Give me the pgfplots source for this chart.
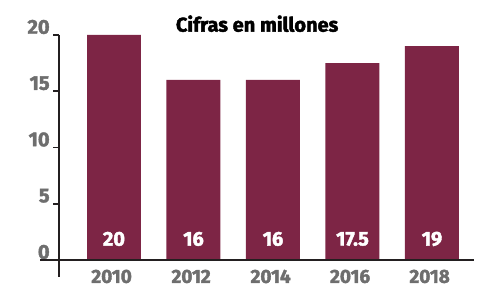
\documentclass[border=0pt]{standalone}
\usepackage{fontspec}
\setmainfont{Fira Sans}[BoldFeatures={FakeBold=2}]
\usepackage{pgfplots}
\pgfplotsset{compat=1.18}
\definecolor{maroon}{HTML}{7D2545}
\definecolor{lblgray}{HTML}{6E6E6E}
\definecolor{axblack}{HTML}{231F20}
\begin{document}
\begin{tikzpicture}
\begin{axis}[
  scale only axis,
  width=415pt, height=241.875pt,
  xmin=-0.69, xmax=4.53,
  ymin=-1.5, ymax=20,
  clip=false,
  axis x line=none,
  axis y line=left,
  axis line style={-, axblack, line width=1.6pt},
  ytick={0,5,10,15,20},
  yticklabels={0,5,10,15,20},
  tick align=outside,
  major tick length=6pt,
  ytick style={axblack, line width=1.6pt},
  yticklabel style={font=\fontsize{20}{20}\selectfont\bfseries, text=lblgray, anchor=east, yshift=8pt},
  /pgf/number format/assume math mode=true,
]
\addplot[ybar, bar shift=0pt, bar width=54pt, fill=maroon, draw=none] coordinates {(0,20) (1,16) (2,16) (3,17.5) (4,19)};
\addplot[draw=none, mark=none, nodes near coords, point meta=explicit symbolic,
  every node near coord/.append style={anchor=center, text=white, font=\fontsize{20}{20}\selectfont\bfseries}]
  coordinates {(0,1.87)[20] (1,1.87)[16] (2,1.87)[16] (3,1.87)[17.5] (4,1.87)[19]};
\draw[axblack, line width=1.6pt] (axis cs:-0.93,0) -- (axis cs:4.53,0);
\node[text=lblgray, font=\fontsize{19}{19}\selectfont\bfseries, inner sep=0pt, anchor=north] at (axis cs:-0.03,-0.85) {2010};
\node[text=lblgray, font=\fontsize{19}{19}\selectfont\bfseries, inner sep=0pt, anchor=north] at (axis cs:0.97,-0.85) {2012};
\node[text=lblgray, font=\fontsize{19}{19}\selectfont\bfseries, inner sep=0pt, anchor=north] at (axis cs:1.97,-0.85) {2014};
\node[text=lblgray, font=\fontsize{19}{19}\selectfont\bfseries, inner sep=0pt, anchor=north] at (axis cs:2.97,-0.85) {2016};
\node[text=lblgray, font=\fontsize{19}{19}\selectfont\bfseries, inner sep=0pt, anchor=north] at (axis cs:3.97,-0.85) {2018};
\node[font=\fontsize{20}{20}\selectfont\bfseries, text=black] at (axis cs:1.8,21.0) {Cifras en millones};
\path (axis cs:-1.434,-2.489) rectangle (axis cs:4.629,23.11);
\end{axis}
\end{tikzpicture}
\end{document}
